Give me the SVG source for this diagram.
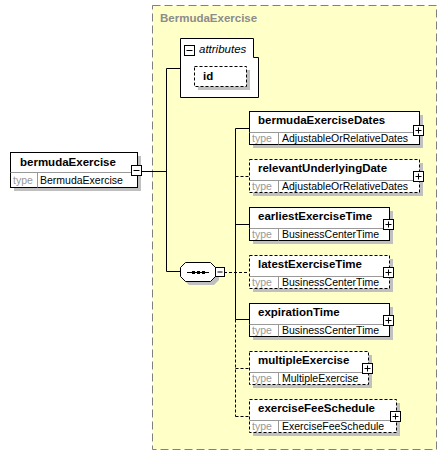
<svg xmlns="http://www.w3.org/2000/svg" width="448" height="455" viewBox="0 0 448 455">
<defs>
<style>
.name{font-family:"Liberation Sans",Arial,sans-serif;font-size:11.5px;font-weight:bold;fill:#000}
.tl{font-family:"Liberation Sans",Arial,sans-serif;font-size:10.5px;fill:#999}
.tv{font-family:"Liberation Sans",Arial,sans-serif;font-size:10.5px;fill:#000}
.box{fill:#fff;stroke:#000;stroke-width:1}
.dbox{fill:#fff;stroke:#000;stroke-width:1;stroke-dasharray:3,2}
.sh{fill:#c0c0c0}
.ln{stroke:#000;stroke-width:1;fill:none}
.dl{stroke:#000;stroke-width:1;fill:none;stroke-dasharray:3,2}
.sep{stroke:#999;stroke-width:1}
.pm{fill:#fff;stroke:#000;stroke-width:1}
</style>
<g id="plus"><rect class="pm" x="0.5" y="0.5" width="10" height="10"/><path class="ln" d="M2.5 5.5h6M5.5 2.5v6"/></g>
</defs>
<rect width="448" height="455" fill="#fff"/>
<g id="complexType">
<rect x="152.5" y="5.5" width="284" height="444" fill="#ffffc8" stroke="#808080" stroke-dasharray="8,4"/>
<text x="160" y="22" font-family="Liberation Sans,Arial,sans-serif" font-size="11.5" font-weight="bold" fill="#8c8c8c">BermudaExercise</text>
</g>
<g id="connectors">
<path class="ln" d="M142 171.5H166.5M166.5 68.5V271.5H180M166.5 68.5H180.5"/>
<path class="ln" d="M235.5 128.5V319.5M235.5 128.5H249M235.5 224.5H249M235.5 319.5H249"/>
<path class="dl" d="M235.5 319.5V416.5M235.5 176.5H249M224 272.5H249M235.5 368.5H249M235.5 416.5H249"/>
</g>
<g id="bermudaExercise">
<rect class="sh" x="14" y="156" width="127" height="35"/>
<rect class="box" x="10.5" y="152.5" width="127" height="35"/>
<line x1="10.5" y1="172.5" x2="137.5" y2="172.5" class="sep"/>
<line x1="37.5" y1="172.5" x2="37.5" y2="187.5" class="sep"/>
<text class="name" x="20" y="166">bermudaExercise</text>
<text class="tl" x="13" y="184">type</text>
<text class="tv" x="40" y="184">BermudaExercise</text>
<rect class="pm" x="131.5" y="165.5" width="10" height="10"/>
<path class="ln" d="M133.5 170.5h6"/>
</g>
<g id="attributes">
<path class="box" d="M180.5 38.5H253.5V57.5H258.5V97.5H180.5Z"/>
<rect class="pm" x="184.5" y="45.5" width="10" height="10"/>
<path class="ln" d="M186.5 50.5h6"/>
<text x="199" y="53" font-family="Liberation Sans,Arial,sans-serif" font-size="11.5" font-style="italic">attributes</text>
<g id="id">
<rect class="sh" x="198" y="70" width="52" height="20"/>
<rect class="dbox" x="194.5" y="66.5" width="52" height="20"/>
<text class="name" x="203" y="80">id</text>
</g>
</g>
<g id="sequence">
<path class="sh" d="M189 266H214L219 271V280L214 285H189L184 280V271Z"/>
<path class="box" d="M185.5 262.5H210.5L215.5 267.5V276.5L210.5 281.5H185.5L180.5 276.5V267.5Z"/>
<path class="ln" d="M187 272.5H209"/>
<rect x="192" y="271" width="3" height="3" fill="#000"/>
<rect x="197" y="271" width="3" height="3" fill="#000"/>
<rect x="202" y="271" width="3" height="3" fill="#000"/>
<rect class="pm" x="215.5" y="267.5" width="9" height="9"/>
<path class="ln" d="M217.5 272h5"/>
</g>
<g id="bermudaExerciseDates">
<rect class="sh" x="253" y="115" width="170" height="33"/>
<rect class="box" x="249.5" y="111.5" width="170" height="33"/>
<line x1="249.5" y1="132.5" x2="419.5" y2="132.5" class="sep"/>
<line x1="278.5" y1="132.5" x2="278.5" y2="144.5" class="sep"/>
<text class="name" x="258" y="124">bermudaExerciseDates</text>
<text class="tl" x="252" y="142">type</text>
<text class="tv" x="282" y="142">AdjustableOrRelativeDates</text>
<use href="#plus" x="413" y="125"/>
</g>
<g id="relevantUnderlyingDate">
<rect class="sh" x="253" y="163" width="170" height="33"/>
<rect class="dbox" x="249.5" y="159.5" width="170" height="33"/>
<line x1="249.5" y1="180.5" x2="419.5" y2="180.5" class="sep"/>
<line x1="278.5" y1="180.5" x2="278.5" y2="192.5" class="sep"/>
<text class="name" x="258" y="172">relevantUnderlyingDate</text>
<text class="tl" x="252" y="190">type</text>
<text class="tv" x="282" y="190">AdjustableOrRelativeDates</text>
<use href="#plus" x="413" y="171"/>
</g>
<g id="earliestExerciseTime">
<rect class="sh" x="253" y="211" width="140" height="33"/>
<rect class="box" x="249.5" y="207.5" width="140" height="33"/>
<line x1="249.5" y1="228.5" x2="389.5" y2="228.5" class="sep"/>
<line x1="278.5" y1="228.5" x2="278.5" y2="240.5" class="sep"/>
<text class="name" x="258" y="220">earliestExerciseTime</text>
<text class="tl" x="252" y="238">type</text>
<text class="tv" x="282" y="238">BusinessCenterTime</text>
<use href="#plus" x="383" y="219"/>
</g>
<g id="latestExerciseTime">
<rect class="sh" x="253" y="259" width="140" height="33"/>
<rect class="dbox" x="249.5" y="255.5" width="140" height="33"/>
<line x1="249.5" y1="276.5" x2="389.5" y2="276.5" class="sep"/>
<line x1="278.5" y1="276.5" x2="278.5" y2="288.5" class="sep"/>
<text class="name" x="258" y="268">latestExerciseTime</text>
<text class="tl" x="252" y="286">type</text>
<text class="tv" x="282" y="286">BusinessCenterTime</text>
<use href="#plus" x="383" y="267"/>
</g>
<g id="expirationTime">
<rect class="sh" x="253" y="307" width="140" height="33"/>
<rect class="box" x="249.5" y="303.5" width="140" height="33"/>
<line x1="249.5" y1="324.5" x2="389.5" y2="324.5" class="sep"/>
<line x1="278.5" y1="324.5" x2="278.5" y2="336.5" class="sep"/>
<text class="name" x="258" y="316">expirationTime</text>
<text class="tl" x="252" y="334">type</text>
<text class="tv" x="282" y="334">BusinessCenterTime</text>
<use href="#plus" x="383" y="315"/>
</g>
<g id="multipleExercise">
<rect class="sh" x="253" y="355" width="119" height="33"/>
<rect class="dbox" x="249.5" y="351.5" width="119" height="33"/>
<line x1="249.5" y1="372.5" x2="368.5" y2="372.5" class="sep"/>
<line x1="278.5" y1="372.5" x2="278.5" y2="384.5" class="sep"/>
<text class="name" x="258" y="364">multipleExercise</text>
<text class="tl" x="252" y="382">type</text>
<text class="tv" x="282" y="382">MultipleExercise</text>
<use href="#plus" x="362" y="363"/>
</g>
<g id="exerciseFeeSchedule">
<rect class="sh" x="253" y="403" width="147" height="33"/>
<rect class="dbox" x="249.5" y="399.5" width="147" height="33"/>
<line x1="249.5" y1="420.5" x2="396.5" y2="420.5" class="sep"/>
<line x1="278.5" y1="420.5" x2="278.5" y2="432.5" class="sep"/>
<text class="name" x="258" y="412">exerciseFeeSchedule</text>
<text class="tl" x="252" y="430">type</text>
<text class="tv" x="282" y="430">ExerciseFeeSchedule</text>
<use href="#plus" x="390" y="411"/>
</g>
</svg>
